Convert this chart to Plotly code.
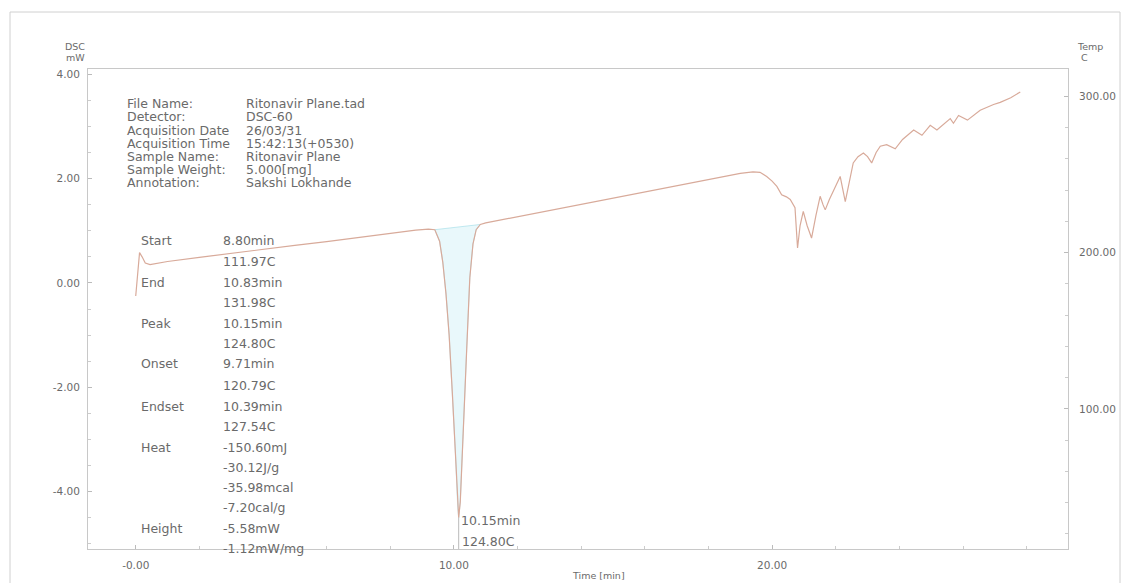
import plotly.graph_objects as go

# ---- data ----
time_min = [0.0, 0.05, 0.12, 0.2, 0.3, 0.45, 0.6, 1.0, 2.0, 3.0, 4.0, 5.0, 6.0, 7.0, 8.0, 8.8, 9.2,
            9.4, 9.55, 9.65, 9.75, 9.85, 9.95, 10.05, 10.12, 10.15, 10.2, 10.3, 10.4, 10.5, 10.6, 10.7, 10.83,
            11.0, 12.0, 13.0, 14.0, 15.0, 16.0, 17.0, 18.0, 19.0, 19.4, 19.62, 19.83, 20.0, 20.15, 20.3,
            20.45, 20.57, 20.72, 20.8, 20.88, 20.98, 21.1, 21.24, 21.38, 21.51, 21.6, 21.67, 21.8, 22.0,
            22.14, 22.3, 22.45, 22.55, 22.7, 22.87, 23.0, 23.13, 23.27, 23.4, 23.6, 23.87, 24.1, 24.3,
            24.45, 24.71, 24.97, 25.18, 25.4, 25.6, 25.7, 25.86, 26.14, 26.54, 26.96, 27.17, 27.5, 27.8]
dsc_mw = [-0.25, 0.1, 0.58, 0.5, 0.38, 0.35, 0.37, 0.41, 0.49, 0.57, 0.64, 0.72, 0.79, 0.87, 0.95, 1.01, 1.03,
          1.02, 0.8, 0.4, -0.2, -1.0, -2.1, -3.3, -4.3, -4.5, -4.2, -2.9, -1.3, 0.1, 0.75, 1.02, 1.12,
          1.15, 1.27, 1.39, 1.51, 1.63, 1.75, 1.87, 1.99, 2.1, 2.13, 2.12, 2.04, 1.95, 1.85, 1.69,
          1.65, 1.6, 1.44, 0.67, 1.1, 1.37, 1.1, 0.86, 1.3, 1.66, 1.5, 1.4, 1.6, 1.85,
          2.04, 1.56, 2.05, 2.3, 2.42, 2.49, 2.42, 2.3, 2.5, 2.62, 2.65, 2.57, 2.75, 2.86,
          2.93, 2.83, 3.02, 2.93, 3.05, 3.15, 3.06, 3.21, 3.12, 3.31, 3.42, 3.46, 3.55, 3.66]

peak_start_min = 9.4
peak_end_min = 10.83
peak_time = 10.15
peak_temp = 124.80

header_labels = ["File Name:", "Detector:", "Acquisition Date", "Acquisition Time", "Sample Name:",
                 "Sample Weight:", "Annotation:"]
header_values = ["Ritonavir Plane.tad", "DSC-60", "26/03/31", "15:42:13(+0530)", "Ritonavir Plane",
                 "5.000[mg]", "Sakshi Lokhande"]

result_labels = ["Start", "", "End", "", "Peak", "", "Onset", "", "Endset", "", "Heat", "", "", "",
                 "Height", ""]
result_values = ["8.80min", "111.97C", "10.83min", "131.98C", "10.15min", "124.80C", "9.71min",
                 "120.79C", "10.39min", "127.54C", "-150.60mJ", "-30.12J/g", "-35.98mcal",
                 "-7.20cal/g", "-5.58mW", "-1.12mW/mg"]

left_ticks = [-4.0, -2.0, 0.0, 2.0, 4.0]
left_tick_text = ["-4.00", "-2.00", "0.00", "2.00", "4.00"]
right_ticks = [100, 200, 300]
right_tick_text = ["100.00", "200.00", "300.00"]
x_ticks = [0, 10, 20]
x_tick_text = ["-0.00", "10.00", "20.00"]

# ---- layout geometry (pixels) ----
W, H = 1128, 583
L, R, T, B = 88, 1068, 69, 549


def px(xp):
    return (xp - L) / (R - L)


def py(yp):
    return (B - yp) / (B - T)


TXT = "#6a6a6a"
FONT = "DejaVu Sans"
CURVE = "#d8aa9a"

fig = go.Figure()

# shaded integration area of the melting peak
pk_x = [t for t in time_min if peak_start_min <= t <= peak_end_min]
pk_y = [v for t, v in zip(time_min, dsc_mw) if peak_start_min <= t <= peak_end_min]
poly_x = pk_x + [pk_x[-1], pk_x[0]]
poly_y = pk_y + [pk_y[-1], pk_y[0]]
fig.add_trace(go.Scatter(x=poly_x, y=poly_y, mode="lines", fill="toself",
                         fillcolor="rgba(215,242,248,0.55)",
                         line=dict(color="rgba(160,220,232,0.8)", width=0.8),
                         hoverinfo="skip", showlegend=False))

fig.add_trace(go.Scatter(x=time_min, y=dsc_mw, mode="lines",
                         line=dict(color=CURVE, width=1.2), showlegend=False))
# empty trace so the temperature axis is drawn
fig.add_trace(go.Scatter(x=[], y=[], yaxis="y2", mode="lines", showlegend=False, hoverinfo="skip"))

axis_common = dict(showgrid=False, zeroline=False, showline=True, linecolor="#c8c8c8", linewidth=1,
                   ticks="inside", ticklen=4, tickcolor="#bbbbbb",
                   tickfont=dict(family=FONT, size=10.5, color=TXT))

fig.update_layout(
    width=W, height=H,
    margin=dict(l=L, r=W - R, t=T, b=H - B),
    paper_bgcolor="white", plot_bgcolor="white",
    font=dict(family=FONT, color=TXT),
    xaxis=dict(range=[-1.5, 29.3], tickvals=x_ticks, ticktext=x_tick_text, mirror=True,
               ticklabelstandoff=6,
               minor=dict(dtick=2, ticks="inside", ticklen=3, tickcolor="#cccccc"),
               **axis_common),
    yaxis=dict(range=[-5.1, 4.1], tickvals=left_ticks, ticktext=left_tick_text,
               ticklabelstandoff=5,
               minor=dict(dtick=0.5, ticks="inside", ticklen=3, tickcolor="#cccccc"),
               **axis_common),
    yaxis2=dict(range=[10.3, 317.5], tickvals=right_ticks, ticktext=right_tick_text, overlaying="y",
                side="right", anchor="x", ticklabelstandoff=8,
                minor=dict(dtick=20, ticks="inside", ticklen=3, tickcolor="#cccccc"),
                **axis_common),
)

ann = []


def add_text(text, xp, yp, size=12.5, anchor="left"):
    ann.append(dict(text=text, x=px(xp), y=py(yp), xref="paper", yref="paper", showarrow=False,
                    xanchor=anchor, yanchor="middle", font=dict(family=FONT, size=size, color=TXT)))


# axis titles
add_text("DSC", 75, 47, 9.5, "center")
add_text("mW", 75, 58, 9.5, "center")
add_text("Temp", 1090, 47, 9.5, "center")
add_text("C", 1079, 58, 9.5, "left")
add_text("Time [min]", 598, 575, 9.5, "center")

header_y = [104, 117, 130, 143, 156, 169, 182]
for lab, val, yy in zip(header_labels, header_values, header_y):
    add_text(lab, 125, yy)
    add_text(val, 244, yy)

result_y = [241, 261, 282, 302, 323, 343, 364, 385, 406, 426, 447, 467, 487, 507, 528, 548]
for lab, val, yy in zip(result_labels, result_values, result_y):
    if lab:
        add_text(lab, 139, yy)
    add_text(val, 221, yy)

# peak label
ann.append(dict(text=f"{peak_time:.2f}min", x=peak_time, y=-4.56, xref="x", yref="y", showarrow=False,
                xanchor="left", yanchor="middle", font=dict(family=FONT, size=12.5, color=TXT)))
ann.append(dict(text=f"{peak_temp:.2f}C", x=peak_time, y=-4.95, xref="x", yref="y", showarrow=False,
                xanchor="left", yanchor="middle", xshift=1,
                font=dict(family=FONT, size=12.5, color=TXT)))

fig.update_layout(annotations=ann)

# small marker line under the peak and outer picture border
fig.add_shape(type="line", x0=peak_time, x1=peak_time, y0=-4.5, y1=-5.1, xref="x", yref="y",
              line=dict(color="#bbbbbb", width=1))
fig.add_shape(type="rect", xref="paper", yref="paper", x0=px(10), x1=px(1120), y0=py(12), y1=py(590),
              line=dict(color="#d0d0d0", width=1), layer="below")

fig.write_html("out.html", config={"displayModeBar": False},
               post_script="document.body.style.margin='0';")
